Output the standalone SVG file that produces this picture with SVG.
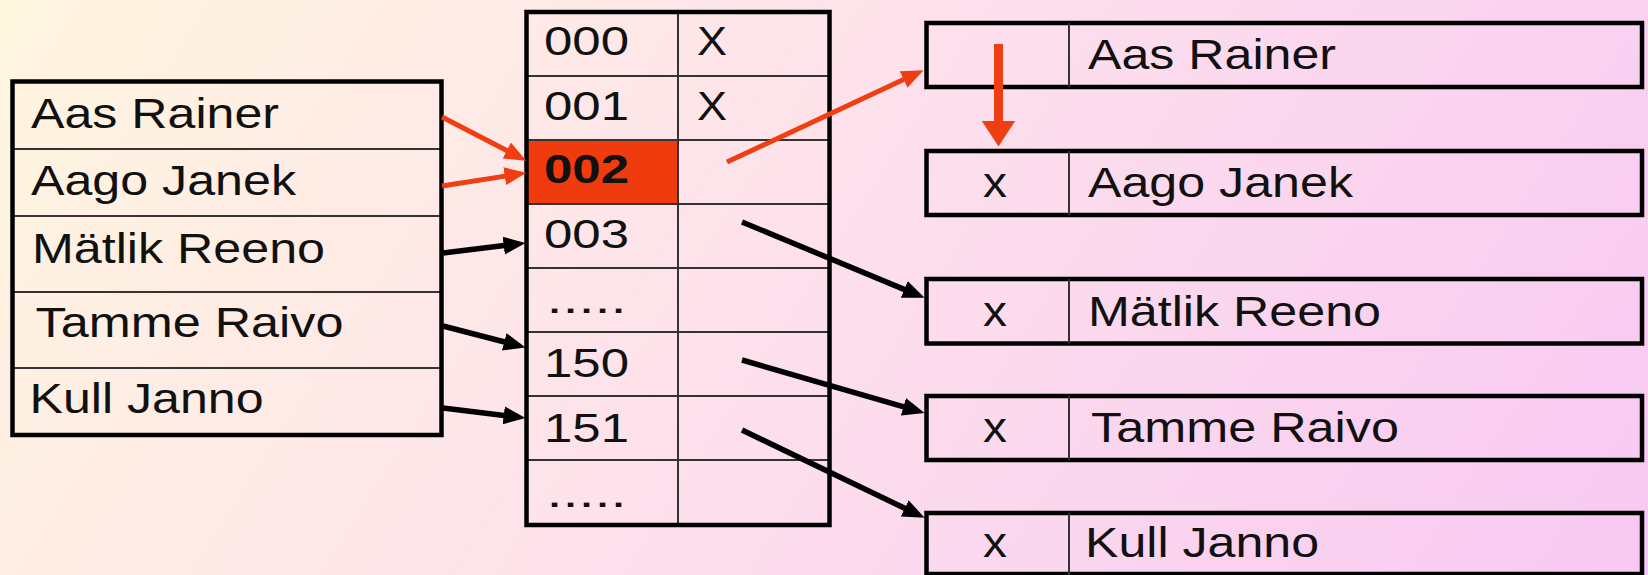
<svg xmlns="http://www.w3.org/2000/svg" width="1648" height="575" viewBox="0 0 1648 575">
<defs>
<linearGradient id="bg" gradientUnits="userSpaceOnUse" x1="0" y1="0" x2="1400" y2="900">
<stop offset="0" stop-color="#FFF6DF"/>
<stop offset="0.5" stop-color="#FDE0EC"/>
<stop offset="1" stop-color="#F8C9F2"/>
</linearGradient>
<marker id="ahRed" markerUnits="userSpaceOnUse" markerWidth="22" markerHeight="18" viewBox="0 0 22 18" refX="0.5" refY="9" orient="auto"><path d="M0,0 L22,9 L0,18 z" fill="#EF3E14"/></marker>
<marker id="ahRedBig" markerUnits="userSpaceOnUse" markerWidth="26" markerHeight="34" viewBox="0 0 26 34" refX="0.5" refY="17" orient="auto"><path d="M0,0 L26,17 L0,34 z" fill="#EF3E14"/></marker>
<marker id="ahBlack" markerUnits="userSpaceOnUse" markerWidth="22" markerHeight="18" viewBox="0 0 22 18" refX="0.5" refY="9" orient="auto"><path d="M0,0 L22,9 L0,18 z" fill="#000"/></marker>
</defs>
<style>
.frame{fill:none;stroke:#000;stroke-width:4.5}
.div{stroke:#333;stroke-width:2;fill:none}
.name{font-family:"Liberation Sans",Arial,sans-serif;font-size:42px;fill:#111}
.num{font-family:"Liberation Sans",Arial,sans-serif;font-size:40px;fill:#111}
.bold{font-weight:bold}
.red{stroke:#EF3E14;fill:none}
.blk{stroke:#000;fill:none;stroke-width:5.5}
</style>
<rect x="0" y="0" width="1648" height="575" fill="url(#bg)"/>

<g id="keys">
<line class="div" x1="12.5" y1="149" x2="441.5" y2="149"/>
<line class="div" x1="12.5" y1="216" x2="441.5" y2="216"/>
<line class="div" x1="12.5" y1="292" x2="441.5" y2="292"/>
<line class="div" x1="12.5" y1="368" x2="441.5" y2="368"/>
<rect class="frame" x="12.5" y="81.5" width="429" height="353.5"/>
<text class="name" x="31" y="128" textLength="248" lengthAdjust="spacingAndGlyphs">Aas Rainer</text>
<text class="name" x="31" y="195" textLength="265" lengthAdjust="spacingAndGlyphs">Aago Janek</text>
<text class="name" x="32" y="263" textLength="293" lengthAdjust="spacingAndGlyphs">Mätlik Reeno</text>
<text class="name" x="35.5" y="337" textLength="308" lengthAdjust="spacingAndGlyphs">Tamme Raivo</text>
<text class="name" x="29.5" y="413" textLength="234" lengthAdjust="spacingAndGlyphs">Kull Janno</text>
</g>

<g id="buckets">
<rect x="526.5" y="140" width="151.5" height="64" fill="#EF3B0E"/>
<line class="div" x1="526.5" y1="76" x2="829.5" y2="76"/>
<line class="div" x1="526.5" y1="140" x2="829.5" y2="140"/>
<line class="div" x1="526.5" y1="204" x2="829.5" y2="204"/>
<line class="div" x1="526.5" y1="268" x2="829.5" y2="268"/>
<line class="div" x1="526.5" y1="332" x2="829.5" y2="332"/>
<line class="div" x1="526.5" y1="396" x2="829.5" y2="396"/>
<line class="div" x1="526.5" y1="460" x2="829.5" y2="460"/>
<line class="div" x1="678" y1="12" x2="678" y2="525"/>
<rect class="frame" x="526.5" y="12" width="303" height="513"/>
<text class="num" x="544" y="55" textLength="85" lengthAdjust="spacingAndGlyphs">000</text>
<text class="num" x="544" y="120" textLength="85" lengthAdjust="spacingAndGlyphs">001</text>
<text class="num bold" x="544" y="183" textLength="85" lengthAdjust="spacingAndGlyphs">002</text>
<text class="num" x="544" y="248" textLength="85" lengthAdjust="spacingAndGlyphs">003</text>
<text class="num" x="546.5" y="313" textLength="80" lengthAdjust="spacingAndGlyphs">.....</text>
<text class="num" x="544" y="377" textLength="85" lengthAdjust="spacingAndGlyphs">150</text>
<text class="num" x="544" y="442" textLength="85" lengthAdjust="spacingAndGlyphs">151</text>
<text class="num" x="546.5" y="507" textLength="80" lengthAdjust="spacingAndGlyphs">.....</text>
<text class="num" x="697" y="55" textLength="30" lengthAdjust="spacingAndGlyphs">X</text>
<text class="num" x="697" y="120" textLength="30" lengthAdjust="spacingAndGlyphs">X</text>
</g>

<g id="rec-aas-rainer">
<rect class="frame" x="926.5" y="23" width="715.5" height="64"/>
<line class="div" x1="1069" y1="23" x2="1069" y2="87"/>
<text class="name" x="1088" y="69" textLength="248" lengthAdjust="spacingAndGlyphs">Aas Rainer</text>
</g>
<g id="rec-aago-janek">
<rect class="frame" x="926.5" y="151" width="715.5" height="64"/>
<line class="div" x1="1069" y1="151" x2="1069" y2="215"/>
<text class="name" x="983" y="197" textLength="24" lengthAdjust="spacingAndGlyphs">x</text>
<text class="name" x="1088" y="197" textLength="265" lengthAdjust="spacingAndGlyphs">Aago Janek</text>
</g>
<g id="rec-matlik-reeno">
<rect class="frame" x="926.5" y="279" width="715.5" height="64.5"/>
<line class="div" x1="1069" y1="279" x2="1069" y2="343.5"/>
<text class="name" x="983" y="326" textLength="24" lengthAdjust="spacingAndGlyphs">x</text>
<text class="name" x="1088" y="326" textLength="293" lengthAdjust="spacingAndGlyphs">Mätlik Reeno</text>
</g>
<g id="rec-tamme-raivo">
<rect class="frame" x="926.5" y="396" width="715.5" height="64"/>
<line class="div" x1="1069" y1="396" x2="1069" y2="460"/>
<text class="name" x="983" y="442" textLength="24" lengthAdjust="spacingAndGlyphs">x</text>
<text class="name" x="1091" y="442" textLength="308" lengthAdjust="spacingAndGlyphs">Tamme Raivo</text>
</g>
<g id="rec-kull-janno">
<rect class="frame" x="926.5" y="513" width="715.5" height="61"/>
<line class="div" x1="1069" y1="513" x2="1069" y2="575"/>
<text class="name" x="983" y="557" textLength="24" lengthAdjust="spacingAndGlyphs">x</text>
<text class="name" x="1085" y="557" textLength="234" lengthAdjust="spacingAndGlyphs">Kull Janno</text>
</g>

<g id="connectors">
<path class="red" stroke-width="5" d="M442,117 L507.2,150.8" marker-end="url(#ahRed)"/>
<path class="red" stroke-width="5" d="M442,186 L505.2,176.1" marker-end="url(#ahRed)"/>
<path class="red" stroke-width="5" d="M727,162 L904.1,79.3" marker-end="url(#ahRed)"/>
<path class="red" stroke-width="9" d="M998.5,44 L998.5,121" marker-end="url(#ahRedBig)"/>
<path class="blk" d="M443,253 L504.2,245.6" marker-end="url(#ahBlack)"/>
<path class="blk" d="M443,326 L504.7,342" marker-end="url(#ahBlack)"/>
<path class="blk" d="M443,408 L504.2,415.4" marker-end="url(#ahBlack)"/>
<path class="blk" d="M742,222 L904.7,289.6" marker-end="url(#ahBlack)"/>
<path class="blk" d="M742,360 L903.9,406.9" marker-end="url(#ahBlack)"/>
<path class="blk" d="M742,430 L905.2,508.5" marker-end="url(#ahBlack)"/>
</g>
</svg>
